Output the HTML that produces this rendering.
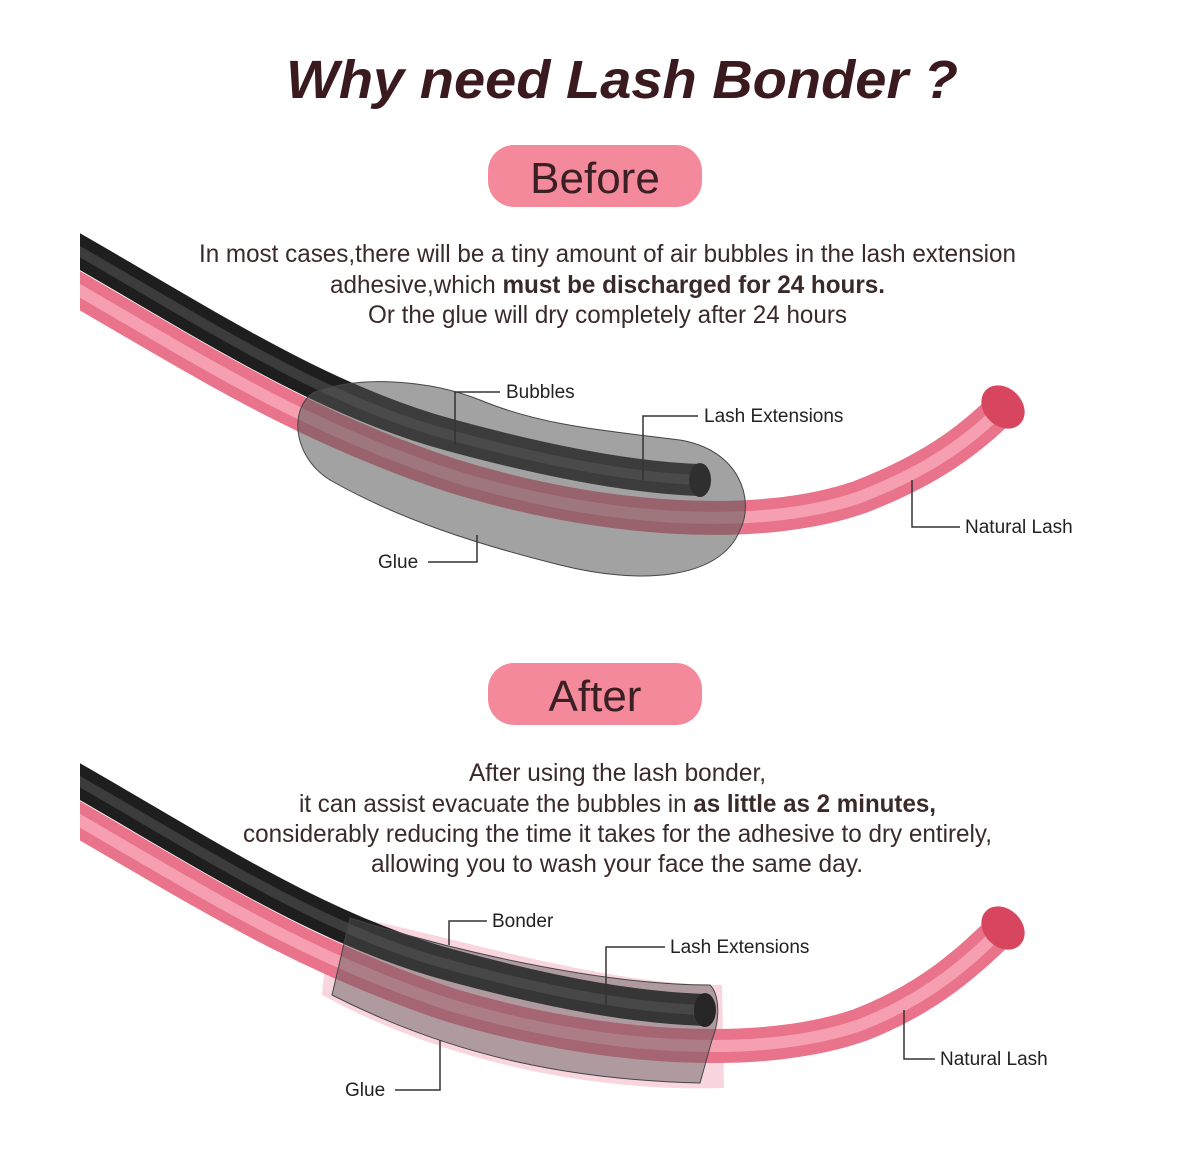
<!DOCTYPE html>
<html><head><meta charset="utf-8"><style>html,body{margin:0;padding:0;background:#fff}svg{display:block}</style></head>
<body>
<svg width="1179" height="1152" viewBox="0 0 1179 1152" xmlns="http://www.w3.org/2000/svg" font-family="Liberation Sans, sans-serif">
<defs>
<clipPath id="cl"><rect x="80" y="0" width="1100" height="1152"/></clipPath>
</defs>
<text x="622" y="98" text-anchor="middle" font-size="54" font-weight="bold" font-style="italic" fill="#3a1a1e" textLength="672" lengthAdjust="spacingAndGlyphs">Why need Lash Bonder ?</text>

<rect x="488" y="145" width="214" height="62" rx="26" fill="#f4899b"/>
<text x="595" y="193" text-anchor="middle" font-size="44" fill="#3a2024">Before</text>
<g font-size="25" fill="#3a2a2a">
<text x="199" y="262" textLength="817" lengthAdjust="spacingAndGlyphs">In most cases,there will be a tiny amount of air bubbles in the lash extension</text>
<text x="330" y="293" textLength="555" lengthAdjust="spacingAndGlyphs">adhesive,which <tspan font-weight="bold">must be discharged for 24 hours.</tspan></text>
<text x="368" y="323" textLength="479" lengthAdjust="spacingAndGlyphs">Or the glue will dry completely after 24 hours</text>
</g>

<g clip-path="url(#cl)">
<path d="M70 285 C200 360 300 425 450 475 C600 522 760 532 860 497 C930 470 970 440 1003 407" stroke="#e9738a" stroke-width="34" fill="none"/>
<path d="M70 285 C200 360 300 425 450 475 C600 522 760 532 860 497 C930 470 970 440 1003 407" stroke="#f59fb0" stroke-width="12" fill="none"/>
<path d="M70 246 C200 320 320 400 450 435 C560 465 640 478 700 480" stroke="#1e1e1e" stroke-width="32" fill="none"/>
<path d="M70 246 C200 320 320 400 450 435 C560 465 640 478 700 480" stroke="#3c3c3c" stroke-width="10" fill="none"/>
</g>
<ellipse cx="1003" cy="407" rx="19" ry="24" transform="rotate(-45 1003 407)" fill="#d8455f"/>
<ellipse cx="700" cy="480" rx="11" ry="17" fill="#000"/>
<path d="M315 392 C360 375 430 380 480 400 C540 425 600 430 680 440 C740 450 755 500 740 530 C720 580 640 585 560 565 C480 545 400 520 330 480 C290 455 290 405 315 392 Z" fill="#555" fill-opacity="0.55" stroke="#444" stroke-width="1"/>

<g stroke="#333" stroke-width="1.5" fill="none">
<path d="M500 392 H455 V445"/><path d="M698 416 H643 V480"/><path d="M960 527 H912 V480"/><path d="M428 562 H477 V535"/>
</g>
<g font-size="19" fill="#222">
<text x="506" y="398">Bubbles</text><text x="704" y="422">Lash Extensions</text><text x="965" y="533">Natural Lash</text><text x="378" y="568">Glue</text>
</g>

<rect x="488" y="663" width="214" height="62" rx="26" fill="#f4899b"/>
<text x="595" y="711" text-anchor="middle" font-size="44" fill="#3a2024">After</text>
<g font-size="25" fill="#3a2a2a">
<text x="469" y="781" textLength="297" lengthAdjust="spacingAndGlyphs">After using the lash bonder,</text>
<text x="299" y="812" textLength="637" lengthAdjust="spacingAndGlyphs">it can assist evacuate the bubbles in <tspan font-weight="bold">as little as 2 minutes,</tspan></text>
<text x="243" y="842" textLength="749" lengthAdjust="spacingAndGlyphs">considerably reducing the time it takes for the adhesive to dry entirely,</text>
<text x="371" y="872" textLength="492" lengthAdjust="spacingAndGlyphs">allowing you to wash your face the same day.</text>
</g>

<path d="M330 912 C450 935 600 985 722 985 L724 1088 C600 1092 450 1065 322 995 Z" fill="#f7c4cf" opacity="0.7"/>
<g clip-path="url(#cl)">
<path d="M70 815 C200 890 300 955 450 1005 C600 1050 760 1060 860 1025 C930 998 970 960 1003 928" stroke="#e9738a" stroke-width="34" fill="none"/>
<path d="M70 815 C200 890 300 955 450 1005 C600 1050 760 1060 860 1025 C930 998 970 960 1003 928" stroke="#f59fb0" stroke-width="12" fill="none"/>
<path d="M70 776 C200 850 320 930 450 965 C560 995 640 1008 705 1010" stroke="#1e1e1e" stroke-width="32" fill="none"/>
<path d="M70 776 C200 850 320 930 450 965 C560 995 640 1008 705 1010" stroke="#3c3c3c" stroke-width="10" fill="none"/>
</g>
<ellipse cx="1003" cy="928" rx="19" ry="24" transform="rotate(-45 1003 928)" fill="#d8455f"/>
<ellipse cx="705" cy="1010" rx="11" ry="17" fill="#000"/>
<path d="M350 918 C450 950 600 985 710 985 C720 995 720 1020 712 1040 L700 1083 C580 1080 460 1060 332 995 Z" fill="#555" fill-opacity="0.45" stroke="#444" stroke-width="1"/>

<g stroke="#333" stroke-width="1.5" fill="none">
<path d="M487 921 H449 V945"/><path d="M665 947 H606 V1010"/><path d="M935 1059 H904 V1010"/><path d="M395 1090 H440 V1040"/>
</g>
<g font-size="19" fill="#222">
<text x="492" y="927">Bonder</text><text x="670" y="953">Lash Extensions</text><text x="940" y="1065">Natural Lash</text><text x="345" y="1096">Glue</text>
</g>
</svg>
</body></html>
